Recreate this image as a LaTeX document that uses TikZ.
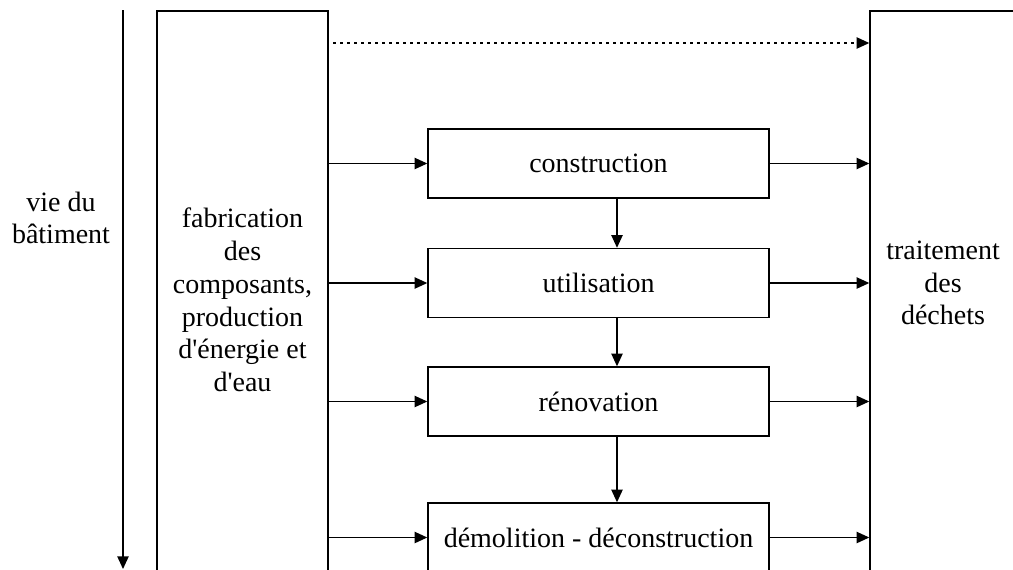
\documentclass[tikz,border=0pt]{standalone}
\usepackage{fontspec}
\setmainfont{Liberation Serif}[Ligatures=TeXOff]
\usetikzlibrary{arrows.meta}
\begin{document}
\begin{tikzpicture}[x=0.75pt,y=-0.75pt,
  txt/.style={align=center,font=\fontsize{21}{24.6}\selectfont,inner sep=0pt},
  stage/.style={draw,line width=1.1pt,minimum width=255.75pt,minimum height=51.75pt,inner sep=0pt,font=\fontsize{21}{24.6}\selectfont},
  bigbox/.style={draw,line width=1.1pt,minimum height=583.5pt,inner sep=0pt},
  arr/.style={line width=1pt,-{Triangle[length=9.5pt,width=8.5pt]}},
  dots/.style={line width=1.6pt,dash pattern=on 1.6pt off 3.65pt}]
\useasboundingbox (0,0) rectangle (1013,569);
\clip (0,0) rectangle (1013,569);
% big boxes
\node[bigbox,minimum width=128.25pt] (fab) at (242.5,400) {};
\node[bigbox,minimum width=172.5pt] (dech) at (985,400) {};
\node[txt] (fabt) at (242.5,300) {fabrication\\des\\composants,\\production\\d'énergie et\\d'eau};
\node[txt] (decht) at (943,283) {traitement\\des\\déchets};
% life arrow
\coordinate (lt) at (123,10);
\coordinate (lb) at (123,569);
\draw[arr] (lt) -- (lb);
\node[txt] (vie) at (61,218) {vie du\\bâtiment};
% stages
\node[stage] (c) at (598.5,163.5) {construction};
\node[stage] (u) at (598.5,283) {utilisation};
\node[stage] (r) at (598.5,401.5) {rénovation};
\node[stage] (d) at (598.5,537.5) {démolition - déconstruction};
% dotted arrow
\coordinate (dt) at (0,43);
\draw[dots] ([xshift=3.5pt]fab.east |- dt) -- ([xshift=-7pt]dech.west |- dt);
\draw[arr] ([xshift=-9.5pt]dech.west |- dt) -- (dech.west |- dt);
% horizontal arrows
\foreach \s in {c,u,r,d}{
  \draw[arr] (fab.east |- \s.west) -- (\s.west);
  \draw[arr] (\s.east) -- (\s.east -| dech.west);
}
% vertical arrows
\coordinate (ax) at (617,0);
\draw[arr] (c.south -| ax) -- (u.north -| ax);
\draw[arr] (u.south -| ax) -- (r.north -| ax);
\draw[arr] (r.south -| ax) -- (d.north -| ax);
\end{tikzpicture}
\end{document}
